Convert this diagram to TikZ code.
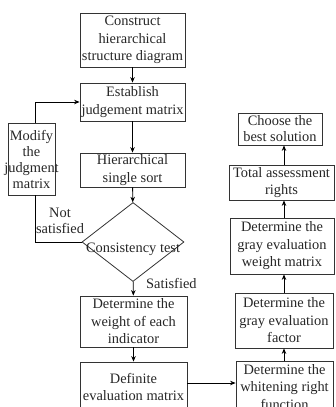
\documentclass[tikz,border=0pt]{standalone}
\usepackage{fontspec}
\setmainfont{Liberation Serif}
\usetikzlibrary{shapes.geometric,arrows.meta}
\begin{document}
\begin{tikzpicture}[x=1pt,y=-1pt,
  box/.style={draw=black!80, line width=0.8pt, inner sep=0pt, align=center, text=black!85,
    font=\fontsize{14.4}{17.5}\selectfont},
  sz/.style 2 args={minimum width=#1pt, minimum height=#2pt},
  arr/.style={draw=black, line width=0.8pt, -{Stealth[length=5.5pt,width=4.5pt]}},
  ln/.style={draw=black, line width=0.8pt},
  lbl/.style={inner sep=0pt, align=center, text=black!85, font=\fontsize{14.4}{15.5}\selectfont}]
\useasboundingbox (0,0) rectangle (335,407);
% left column
\node[box, sz={105}{54}] (b1) at (132.5,40) {Construct\\hierarchical\\structure diagram};
\node[box, sz={105}{38}] (b2) at (132.5,102) {Establish\\judgement matrix};
\node[box, sz={105}{34}] (b3) at (132.5,170) {Hierarchical\\single sort};
\node[diamond, draw=black!80, line width=0.8pt, inner sep=0pt, minimum width=102pt, minimum height=79pt] (ct) at (133,242) {};
\node[lbl] (cttext) at (133,249) {Consistency test};
\node[box, sz={107}{51}] (b4) at (133.5,321.5) {Determine the\\weight of each\\indicator};
\node[box, sz={107}{50}] (b5) at (133.5,387) {Definite\\evaluation matrix};
\node[box, sz={47}{72}, font=\fontsize{14.4}{16}\selectfont] (mod) at (31.5,159) {Modify\\the\\\makebox[47pt]{judgment}\\matrix};
% right column
\node[box, sz={84}{32}, font=\fontsize{14.4}{16}\selectfont] (choose) at (280,129) {Choose the\\best solution};
\node[box, sz={105}{35}] (total) at (281.5,182.5) {Total assessment\\rights};
\node[box, sz={104}{56}] (wm) at (282,246) {Determine the\\gray evaluation\\weight matrix};
\node[box, sz={98}{55}] (factor) at (284,320.5) {Determine the\\gray evaluation\\factor};
\node[box, sz={97}{52}] (white) at (284.5,387) {Determine the\\whitening right\\function};
% labels
\node[lbl, anchor=west] (sat) at (146,283) {Satisfied};
\node[lbl] (notsat) at (60,221) {Not\\satisfied};
% helper coordinates
\coordinate (lx) at (35,0);
\coordinate (rx) at (284,0);
\coordinate (ay) at (0,383);
% connectors
\draw[arr] (b1) -- (b2);
\draw[arr] (b2) -- (b3);
\draw[arr] (b3) -- (ct);
\draw[arr] (ct) -- (b4);
\draw[arr] (b4) -- (b5);
\draw[ln] (ct.west) -| (lx |- mod.south);
\draw[arr] (lx |- mod.north) |- (b2.west);
\draw[arr] (b5.east |- ay) -- (white.west |- ay);
\draw[arr] (rx |- white.north) -- (rx |- factor.south);
\draw[arr] (rx |- factor.north) -- (rx |- wm.south);
\draw[arr] (rx |- wm.north) -- (rx |- total.south);
\draw[arr] (rx |- total.north) -- (rx |- choose.south);
\end{tikzpicture}
\end{document}
